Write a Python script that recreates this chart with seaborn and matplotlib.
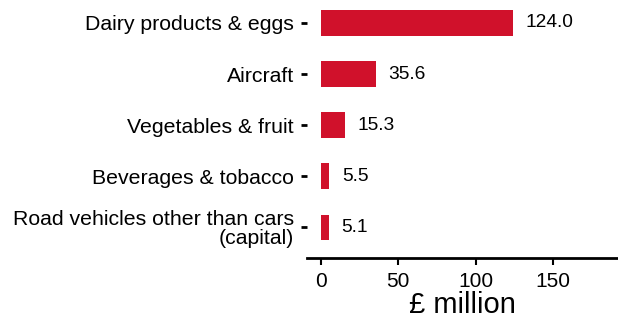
import matplotlib
matplotlib.use("Agg")
import matplotlib.pyplot as plt
import seaborn as sns
import pandas as pd

categories = ["Dairy products & eggs", "Aircraft", "Vegetables & fruit",
              "Beverages & tobacco", "Road vehicles other than cars\n(capital)"]
values = [124.0, 35.6, 15.3, 5.5, 5.1]
value_labels = ["124.0", "35.6", "15.3", "5.5", "5.1"]
xticks = [0, 50, 100, 150]

sns.set_theme(style="white")
plt.rcParams['font.family'] = ['Liberation Sans', 'DejaVu Sans']

df = pd.DataFrame({"category": categories, "value": values})

fig = plt.figure(figsize=(6.18, 3.19), dpi=100)
ax = fig.add_axes([307/618, 1 - 258/319, 1 - 307/618, 258/319])
sns.barplot(data=df, y="category", x="value", color="#d0112b", width=0.5,
            saturation=1, ax=ax, orient="h", linewidth=0)
for c in ax.containers:
    ax.bar_label(c, labels=value_labels, padding=9, fontsize=13.8, color="black")

ax.set_xlim(-9, 192)
ax.set_ylim(4.6, -0.45)
ax.set_xticks(xticks)
ax.set_xticklabels([str(t) for t in xticks])
ax.set_xlabel("£ million", fontsize=21, color="black", labelpad=0)
ax.set_ylabel("")
for s in ["top", "right", "left"]:
    ax.spines[s].set_visible(False)
ax.spines["bottom"].set_linewidth(2)
ax.spines["bottom"].set_color("black")
ax.tick_params(axis="x", bottom=True, length=5, width=1.5, color="black",
               labelsize=15, labelcolor="black", pad=5)
ax.tick_params(axis="y", left=True, length=4.5, width=2, color="black",
               labelsize=15.3, labelcolor="black", pad=5)
for lbl in ax.get_yticklabels():
    lbl.set_linespacing(0.95)

fig.savefig("out.png", dpi=100)
